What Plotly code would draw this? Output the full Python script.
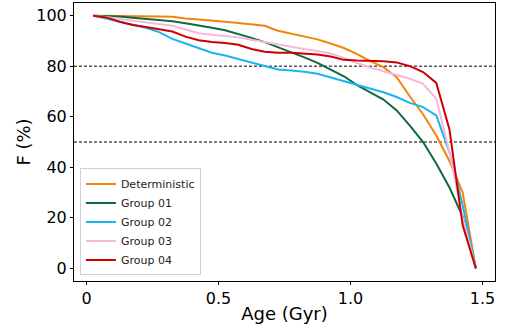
import plotly.graph_objects as go

age = [0.025, 0.075, 0.125, 0.175, 0.225, 0.275, 0.325, 0.375, 0.425, 0.475,
       0.525, 0.575, 0.625, 0.675, 0.725, 0.775, 0.825, 0.875, 0.925, 0.975,
       1.025, 1.075, 1.125, 1.175, 1.225, 1.275, 1.325, 1.375, 1.425, 1.475]

deterministic = [100, 100, 100, 100, 99.8, 99.7, 99.6, 98.9, 98.5, 98.2,
                 97.6, 97.1, 96.6, 96.0, 94.0, 92.8, 91.6, 90.6, 89.0, 87.2,
                 84.8, 82.0, 79.6, 75.6, 68.0, 61.0, 52.6, 42.5, 30.0, 0]
group01 = [100, 99.8, 99.7, 99.2, 98.7, 98.2, 97.8, 97.0, 96.2, 95.2,
           94.2, 92.8, 91.2, 89.5, 87.5, 85.8, 83.5, 81.3, 78.5, 76.0,
           72.5, 69.5, 66.8, 62.5, 56.5, 50.0, 41.5, 32.0, 20.5, 0]
group02 = [100, 98.8, 97.8, 96.5, 95.2, 93.5, 90.8, 89.0, 87.0, 85.3,
           84.2, 82.8, 81.2, 80.0, 78.7, 78.3, 77.8, 77.0, 75.5, 74.2,
           72.6, 71.0, 69.7, 67.8, 65.5, 63.8, 60.5, 46.0, 25.0, 0]
group03 = [100, 99.5, 98.7, 98.0, 97.2, 96.6, 96.0, 94.5, 93.0, 92.4,
           92.0, 91.4, 90.5, 89.5, 88.7, 87.7, 86.8, 86.0, 85.0, 83.3,
           81.2, 79.5, 78.0, 76.3, 75.0, 73.0, 67.1, 46.0, 20.0, 0]
group04 = [100, 99.3, 97.6, 96.3, 95.5, 94.5, 93.7, 91.7, 90.3, 89.6,
           89.2, 88.5, 86.8, 85.7, 85.3, 85.3, 85.0, 84.6, 83.8, 82.5,
           82.2, 82.2, 82.0, 81.5, 80.0, 77.7, 73.4, 55.0, 17.0, 0]

names = ["Deterministic", "Group 01", "Group 02", "Group 03", "Group 04"]
series = [deterministic, group01, group02, group03, group04]
colors = ["#F5820B", "#0F6B3C", "#1AB4F0", "#F7B8DA", "#CC0000"]
ref_levels = [80, 50]

fig = go.Figure()
for n, s, c in zip(names, series, colors):
    fig.add_trace(go.Scatter(x=age, y=s, mode="lines", name=n,
                             line=dict(color=c, width=2)))

for lv in ref_levels:
    fig.add_shape(type="line", xref="paper", x0=0, x1=1, yref="y", y0=lv, y1=lv,
                  line=dict(color="black", width=1, dash="3px,2px"), layer="below")

font = "DejaVu Sans"
fig.update_layout(
    width=510, height=324,
    margin=dict(l=74, r=15, t=3, b=43),
    paper_bgcolor="white", plot_bgcolor="white",
    font=dict(family=font, color="black"),
    showlegend=True,
    legend=dict(x=0.014, y=0.02, xanchor="left", yanchor="bottom",
                bgcolor="white", bordercolor="#d0d0d0", borderwidth=1,
                font=dict(family=font, size=11, color="#222"),
                itemwidth=30, tracegroupgap=0),
)
fig.update_xaxes(range=[-0.0475, 1.5475], tickvals=[0, 0.5, 1.0, 1.5],
                 ticktext=["0", "0.5", "1.0", "1.5"],
                 showgrid=False, zeroline=False, showline=True, linecolor="black",
                 linewidth=1, mirror=True, ticks="outside", ticklen=3,
                 tickcolor="black", tickfont=dict(size=16),
                 title=dict(text="Age (Gyr)", font=dict(size=18), standoff=0))
fig.update_yaxes(range=[-5, 105], tickvals=[0, 20, 40, 60, 80, 100],
                 showgrid=False, zeroline=False, showline=True, linecolor="black",
                 linewidth=1, mirror=True, ticks="outside", ticklen=3,
                 tickcolor="black", tickfont=dict(size=16),
                 title=dict(text="F (%)", font=dict(size=18), standoff=0))

fig.write_html("out.html")
